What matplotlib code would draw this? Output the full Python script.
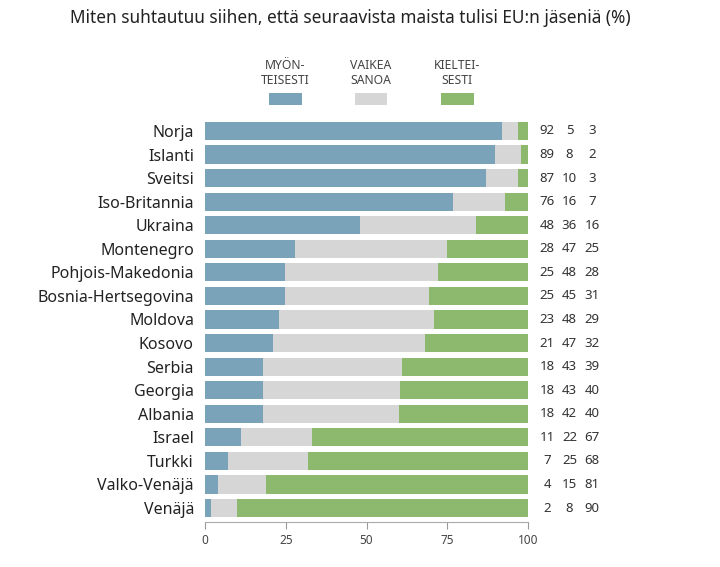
import matplotlib
matplotlib.use("Agg")
import matplotlib.pyplot as plt
import matplotlib.transforms as mtransforms
import matplotlib.patches as mpatches
import numpy as np

countries = ["Norja", "Islanti", "Sveitsi", "Iso-Britannia", "Ukraina", "Montenegro",
             "Pohjois-Makedonia", "Bosnia-Hertsegovina", "Moldova", "Kosovo", "Serbia",
             "Georgia", "Albania", "Israel", "Turkki", "Valko-Venäjä", "Venäjä"]
positive = [92, 89, 87, 76, 48, 28, 25, 25, 23, 21, 18, 18, 18, 11, 7, 4, 2]
hard_to_say = [5, 8, 10, 16, 36, 47, 48, 45, 48, 47, 43, 43, 42, 22, 25, 15, 8]
negative = [3, 2, 3, 7, 16, 25, 28, 31, 29, 32, 39, 40, 40, 67, 68, 81, 90]
series_labels = ["MYÖN-\nTEISESTI", "VAIKEA\nSANOA", "KIELTEI-\nSESTI"]
colors = ["#7aa3b9", "#d6d6d6", "#8db96e"]
title = "Miten suhtautuu siihen, että seuraavista maista tulisi EU:n jäseniä (%)"
xticks = [0, 25, 50, 75, 100]

plt.rcParams['font.family'] = ['Noto Sans', 'DejaVu Sans']

fig = plt.figure(figsize=(7.2, 5.67), dpi=100)
ax = fig.add_axes([205/720, 1-522/567, (528-205)/720, (522-117)/567])

vals = np.array([positive, hard_to_say, negative], dtype=float)
tot = vals.sum(axis=0)
norm = vals / tot * 100
y = np.arange(len(countries))
left = np.zeros(len(countries))
for i in range(3):
    ax.barh(y, norm[i], left=left, height=0.77, color=colors[i], linewidth=0)
    left += norm[i]

ax.set_xlim(0, 100)
ax.set_ylim(len(countries) - 1 + 0.594, -0.594)
ax.set_yticks(y)
ax.set_yticklabels(countries, fontsize=11.5, color="#222222")
ax.tick_params(axis='y', length=0, pad=8)
ax.set_xticks(xticks)
ax.set_xticklabels([str(t) for t in xticks], fontsize=8.5, color="#444444")
ax.tick_params(axis='x', length=5, color="#999999", pad=4)
for s in ["top", "right", "left"]:
    ax.spines[s].set_visible(False)
ax.spines["bottom"].set_color("#aaaaaa")

# value columns
trans = mtransforms.blended_transform_factory(fig.transFigure, ax.transData)
col_x = [547, 569.5, 592]
for j in range(len(countries)):
    for k in range(3):
        ax.text(col_x[k] / 720, y[j], f"{int(vals[k][j])}", transform=trans,
                ha="center", va="center", fontsize=9.5, color="#333333")

# legend
leg_x = [285, 371, 457]
for k in range(3):
    fig.patches.append(mpatches.Rectangle(((leg_x[k]-16.5)/720, 1-105/567), 33/720, 12/567,
                                          transform=fig.transFigure, color=colors[k], linewidth=0))
    fig.text(leg_x[k]/720, 1-59/567, series_labels[k], ha="center", va="top", fontsize=8.8,
             color="#444444", linespacing=1.25)

fig.text(350/720, 1-18/567, title, ha="center", va="center", fontsize=12.4, color="#222222")

fig.savefig("out.png", dpi=100)
